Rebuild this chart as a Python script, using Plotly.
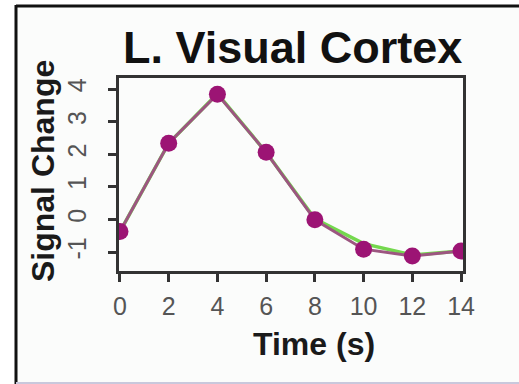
import plotly.graph_objects as go

# Event-related BOLD response, left visual cortex
time_s = [0, 2, 4, 6, 8, 10, 12, 14]
signal_main = [-0.37, 2.34, 3.84, 2.06, -0.01, -0.91, -1.12, -0.97]
signal_alt = [-0.37, 2.34, 3.86, 2.06, 0.02, -0.74, -1.09, -0.97]
x_ticks = [0, 2, 4, 6, 8, 10, 12, 14]
y_ticks = [-1, 0, 1, 2, 3, 4]
y_tick_text = ["-1", "0", "1", "2", "3", "4"]

W, H = 519, 384
L, R, T, B = 119, 56, 78, 113


def px(x):
    return (x - L) / (W - L - R)


def py(y):
    return (H - B - y) / (H - T - B)


fig = go.Figure()
fig.add_trace(go.Scatter(
    x=time_s, y=signal_alt, mode="lines",
    line=dict(color="#74d84e", width=3.5), hoverinfo="skip",
))
fig.add_trace(go.Scatter(
    x=time_s, y=signal_main, mode="lines+markers",
    line=dict(color="#9c5680", width=3),
    marker=dict(size=17, color="#9c1474"),
))

axis_common = dict(
    showgrid=False, zeroline=False, showline=True, mirror=True,
    linecolor="#333333", linewidth=3,
    ticks="outside", ticklen=8, tickwidth=2.5, tickcolor="#333333",
    tickfont=dict(family="Liberation Sans, Arial, sans-serif", size=25, color="#555555"),
)

fig.update_xaxes(range=[-0.04, 14.08], tickvals=x_ticks,
                 ticklabelstandoff=3, **axis_common)
fig.update_yaxes(range=[-1.58, 4.34], tickvals=y_ticks, ticktext=y_tick_text,
                 tickangle=-90, ticklabelstandoff=12, **axis_common)

bold = "Liberation Sans, Arial, sans-serif"
fig.add_annotation(text="<b>L. Visual Cortex</b>", xref="paper", yref="paper",
                   x=px(292), y=py(47), xanchor="center", yanchor="middle",
                   showarrow=False, font=dict(family=bold, size=45, color="#111111"))
fig.add_annotation(text="<b>Time (s)</b>", xref="paper", yref="paper",
                   x=px(314), y=py(344), xanchor="center", yanchor="middle",
                   showarrow=False, font=dict(family=bold, size=32, color="#1a1a1a"))
fig.add_annotation(text="<b>Signal Change</b>", xref="paper", yref="paper",
                   x=px(43), y=py(171), xanchor="center", yanchor="middle",
                   textangle=-90, showarrow=False,
                   font=dict(family=bold, size=32, color="#1a1a1a"))

# Outer panel frame (top and left dark, bottom faint)
fig.add_shape(type="rect", xref="paper", yref="paper", layer="below",
              x0=px(16), x1=px(530), y0=py(382), y1=py(6),
              line=dict(width=0), fillcolor="#fbfcfb")
fig.add_shape(type="line", xref="paper", yref="paper",
              x0=px(16), x1=px(530), y0=py(6), y1=py(6),
              line=dict(color="#111111", width=3))
fig.add_shape(type="line", xref="paper", yref="paper",
              x0=px(16), x1=px(16), y0=py(5), y1=py(384),
              line=dict(color="#111111", width=3))
fig.add_shape(type="line", xref="paper", yref="paper",
              x0=px(16), x1=px(530), y0=py(383), y1=py(383),
              line=dict(color="#c9c8dc", width=2))

fig.update_layout(
    width=W, height=H, showlegend=False,
    margin=dict(l=L, r=R, t=T, b=B),
    paper_bgcolor="white", plot_bgcolor="white",
)

fig.write_html("out.html")
